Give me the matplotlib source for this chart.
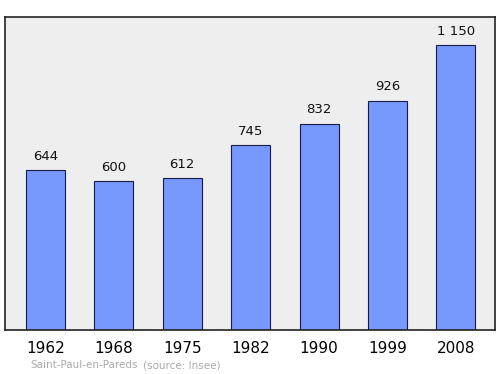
import matplotlib
matplotlib.use("Agg")
import matplotlib.pyplot as plt

years = ["1962", "1968", "1975", "1982", "1990", "1999", "2008"]
population = [644, 600, 612, 745, 832, 926, 1150]
labels = ["644", "600", "612", "745", "832", "926", "1 150"]

fig = plt.figure(figsize=(5, 3.74), dpi=100)
ax = fig.add_axes([0.01, 0.1176, 0.98, 0.837])
ax.set_facecolor("#eeeeee")

x = list(range(len(years)))
ax.bar(x, population, width=0.57, color="#7799ff", edgecolor="#1a1a4a", linewidth=0.8, zorder=2)

for xi, v, lab in zip(x, population, labels):
    ax.text(xi, v + 30, lab, ha="center", va="bottom", fontsize=9.5, color="#111111")

ax.set_xlim(-0.59, 6.57)
ax.set_ylim(0, 1263)
ax.set_yticks([])
ax.set_xticks(x)
ax.set_xticklabels(years, fontsize=11)
ax.tick_params(axis="x", length=0, pad=8)
for s in ax.spines.values():
    s.set_linewidth(1.2)
    s.set_color("#222222")

fig.text(0.06, 0.015, "Saint-Paul-en-Pareds", fontsize=7.5, color="#aaaaaa")
fig.text(0.286, 0.015, "(source: Insee)", fontsize=7.5, color="#aaaaaa")

fig.savefig("out.png", dpi=100)
